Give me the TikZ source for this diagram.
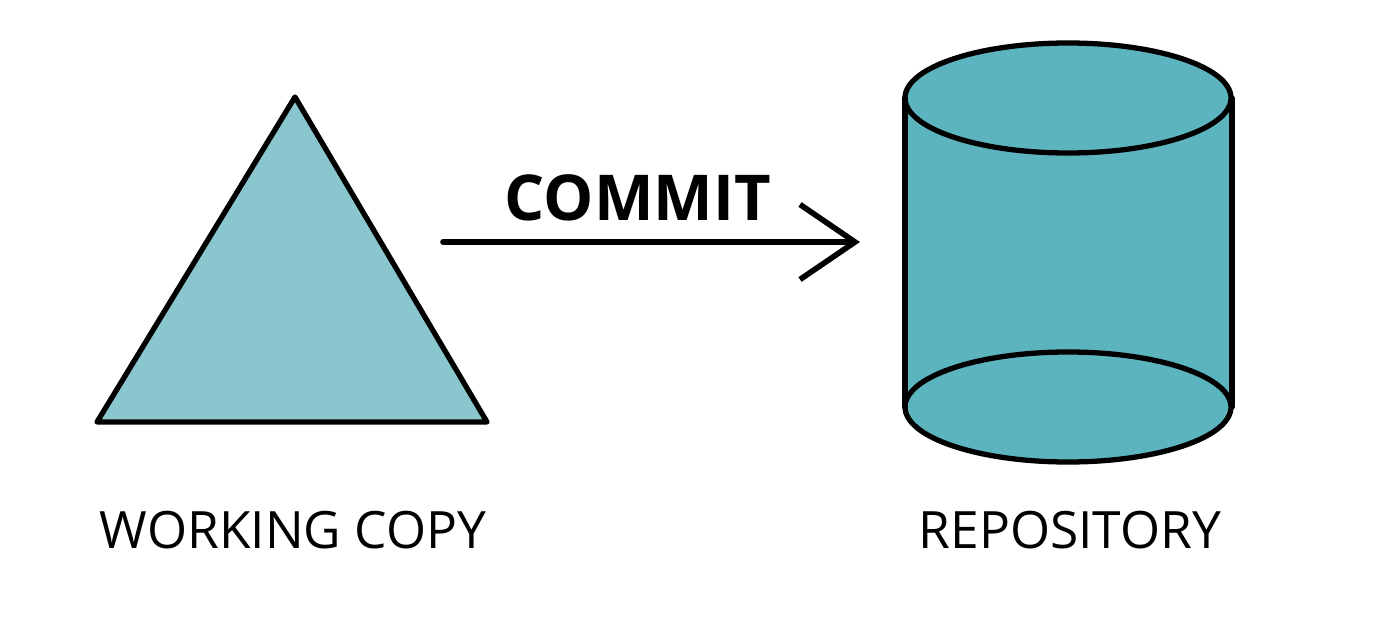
\documentclass[tikz,border=0pt]{standalone}
\usepackage{fontspec}
\setmainfont{Open Sans}
\usetikzlibrary{positioning, arrows.meta}

\definecolor{wcteal}{HTML}{8AC6CD}
\definecolor{repoteal}{HTML}{5CB4BF}

\begin{document}
\begin{tikzpicture}[
  x=0.02cm, y=-0.02cm,
  outline/.style={draw=black, line width=3pt, line join=round, line cap=round},
  label/.style={font=\fontsize{29.3}{34}\selectfont, inner sep=0pt},
  action/.style={font=\fontsize{36}{40}\selectfont\bfseries, inner sep=0pt},
  arrow/.style={-{Straight Barb[length=1.1cm, width=1.5cm, line width=3.2pt]}, line width=3.2pt, line cap=round}
]
\useasboundingbox (0,0) rectangle (1374,618);

% Working copy
\filldraw[outline, fill=wcteal] (295,97) -- (487,422) -- (97,422) -- cycle;
\node[label] (working_copy) at (293,530) {WORKING COPY};

% Repository
\fill[repoteal] (905,98) rectangle (1232,407);
\fill[repoteal] (1068,407) ellipse [x radius=163, y radius=55];
\filldraw[outline, fill=repoteal] (1068,98) ellipse [x radius=163, y radius=55];
\draw[outline] (1068,407) ellipse [x radius=163, y radius=55];
\draw[outline] (905,98) -- (905,407);
\draw[outline] (1232,98) -- (1232,407);
\node[label] (repository) at (1070,530) {REPOSITORY};

% Commit
\coordinate (commit_start) at (443,242);
\coordinate (commit_end) at (860,242);
\draw[arrow] (commit_start) -- (commit_end);
\node[action] (commit) at (638,198) {COMMIT};

\end{tikzpicture}
\end{document}
